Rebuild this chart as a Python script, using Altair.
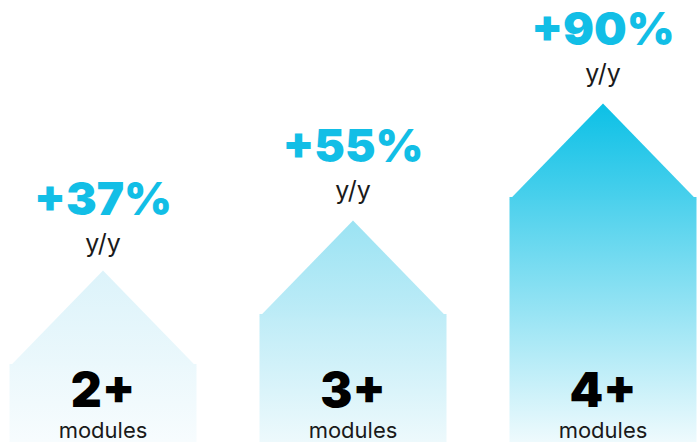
import altair as alt
import pandas as pd

# ---- data ----
categories = ["2+", "3+", "4+"]
growth_labels = ["+37%", "+55%", "+90%"]
sub_label = "y/y"
unit_label = "modules"
shoulder_height = [78, 128, 245]   # height of straight side of each arrow
peak_height = [167, 220, 337]      # height of the arrow tip
top_colors = ["#DCF3FA", "#9BE3F3", "#0CC0E6"]
bottom_colors = ["#F7FCFE", "#EDF9FC", "#EEFAFD"]

HALF_W = 0.374
W, H = 698, 442
X_DOMAIN = [-0.412, 2.38]
HALF_W_PX = HALF_W / (X_DOMAIN[1] - X_DOMAIN[0]) * W


def mix(c1, c2, t):
    a = [int(c1[k:k + 2], 16) for k in (1, 3, 5)]
    b = [int(c2[k:k + 2], 16) for k in (1, 3, 5)]
    return "#" + "".join(f"{round(p + (q - p) * t):02X}" for p, q in zip(a, b))


df = pd.DataFrame({
    "cat": categories,
    "x": list(range(len(categories))),
    "shoulder": shoulder_height,
    "peak": peak_height,
    "growth": growth_labels,
    "sub": [sub_label] * 3,
    "unit": [unit_label] * 3,
})
df["x0"] = df["x"] - HALF_W
df["x1"] = df["x"] + HALF_W
df["base"] = 0

xs = alt.Scale(domain=X_DOMAIN, nice=False, zero=False)
ys = alt.Scale(domain=[0, H], nice=False, zero=True)

roof_shape = "M -1 0.03 L 0 -1 L 1 0.03 Z"

layers = []
for i, c in enumerate(categories):
    roof_px = HALF_W_PX
    total_px = shoulder_height[i] + roof_px
    mid = mix(top_colors[i], bottom_colors[i], roof_px / total_px)
    body_grad = alt.Gradient(
        gradient="linear",
        stops=[alt.GradientStop(color=mid, offset=0),
               alt.GradientStop(color=bottom_colors[i], offset=1)],
        x1=0, x2=0, y1=0, y2=1,
    )
    roof_grad = alt.Gradient(
        gradient="linear",
        stops=[alt.GradientStop(color=top_colors[i], offset=0),
               alt.GradientStop(color=mid, offset=1)],
        x1=0, x2=0, y1=0, y2=1,
    )
    sub = alt.Chart(df).transform_filter(alt.datum.cat == c)
    layers.append(
        sub.mark_rect(color=body_grad, opacity=1).encode(
            x=alt.X("x0:Q", scale=xs, axis=None), x2="x1:Q",
            y=alt.Y("shoulder:Q", scale=ys, axis=None), y2="base:Q")
    )
    layers.append(
        sub.mark_point(shape=roof_shape, filled=True, color=roof_grad, opacity=1,
                       strokeWidth=0, size=(2 * HALF_W_PX) ** 2).encode(
            x=alt.X("x:Q", scale=xs, axis=None),
            y=alt.Y("shoulder:Q", scale=ys, axis=None))
    )

base = alt.Chart(df)
X = alt.X("x:Q", scale=xs, axis=None)
growth_txt = base.mark_text(font="Inter", fontSize=46, fontWeight=900,
                            color="#12BEE6", baseline="alphabetic", dy=-60).encode(
    x=X, y=alt.Y("peak:Q", scale=ys, axis=None), text="growth:N")
sub_txt = base.mark_text(font="Inter", fontSize=25, fontWeight=400,
                         color="#1a1a1a", baseline="alphabetic", dy=-23).encode(
    x=X, y=alt.Y("peak:Q", scale=ys, axis=None), text="sub:N")
cat_txt = base.mark_text(font="Inter", fontSize=48, fontWeight=900,
                         color="#000000", baseline="alphabetic").encode(
    x=X, y=alt.value(407), text="cat:N")
unit_txt = base.mark_text(font="Inter", fontSize=22, fontWeight=400,
                          color="#1a1a1a", baseline="alphabetic").encode(
    x=X, y=alt.value(438), text="unit:N")

chart = alt.layer(*layers, growth_txt, sub_txt, cat_txt, unit_txt).properties(
    width=W, height=H, padding=0, autosize=alt.AutoSizeParams(type="none"),
    background="white",
).configure_view(stroke=None)

chart.save("out.html", embed_options={"renderer": "svg", "actions": False})
